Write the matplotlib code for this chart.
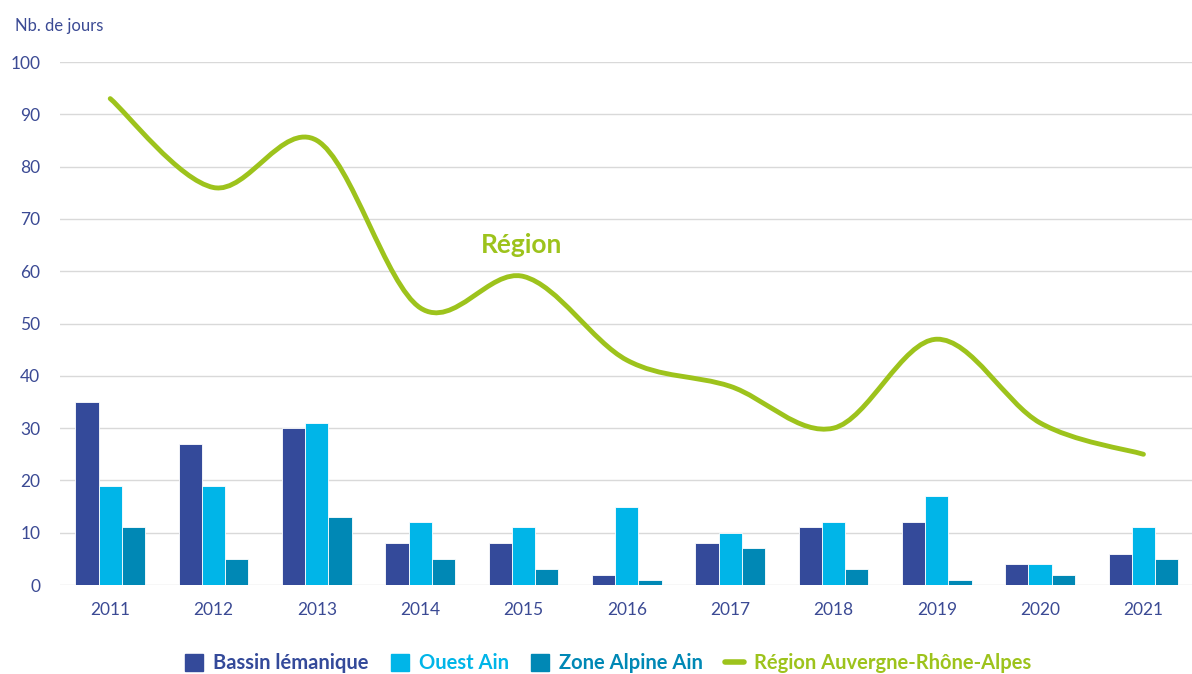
import matplotlib
matplotlib.use("Agg")
import matplotlib.pyplot as plt
import numpy as np
from matplotlib.path import Path
from matplotlib.patches import PathPatch, Patch
from matplotlib.lines import Line2D

plt.rcParams['font.family'] = ['Lato', 'DejaVu Sans']

annees = ['2011', '2012', '2013', '2014', '2015', '2016', '2017', '2018', '2019', '2020', '2021']
bassin_lemanique = [35, 27, 30, 8, 8, 2, 8, 11, 12, 4, 6]
ouest_ain = [19, 19, 31, 12, 11, 15, 10, 12, 17, 4, 11]
zone_alpine_ain = [11, 5, 13, 5, 3, 1, 7, 3, 1, 2, 5]
region_ara = [93, 76, 85, 53, 59, 43, 38, 30, 47, 31, 25]

c_bassin = '#344a9a'
c_ouest = '#00b5e8'
c_alpine = '#0088b5'
c_region = '#9dc31c'
c_texte = '#3b4a94'

fig = plt.figure(figsize=(11.92, 6.74), dpi=100)
ax = fig.add_axes([0.05, 0.132, 0.95, 0.776])

x = np.arange(len(annees))
w = 0.225
ax.bar(x - w, bassin_lemanique, w, color=c_bassin, edgecolor='white', linewidth=0.6, zorder=2)
ax.bar(x, ouest_ain, w, color=c_ouest, edgecolor='white', linewidth=0.6, zorder=2)
ax.bar(x + w, zone_alpine_ain, w, color=c_alpine, edgecolor='white', linewidth=0.6, zorder=2)

# courbe lissée (Catmull-Rom -> Bézier)
pts = np.column_stack([x, region_ara]).astype(float)
verts = [pts[0]]
codes = [Path.MOVETO]
for i in range(len(pts) - 1):
    p0 = pts[max(i - 1, 0)]
    p1 = pts[i]
    p2 = pts[i + 1]
    p3 = pts[min(i + 2, len(pts) - 1)]
    verts += [p1 + (p2 - p0) / 6, p2 - (p3 - p1) / 6, p2]
    codes += [Path.CURVE4] * 3
ax.add_patch(PathPatch(Path(verts, codes), facecolor='none', edgecolor=c_region,
                       linewidth=3.5, capstyle='round', zorder=3))

ax.text(3.98, 65, 'Région', color=c_region, fontsize=19, fontweight='bold',
        ha='center', va='center')

ax.set_xlim(-0.49, 10.47)
ax.set_ylim(0, 100)
ax.set_yticks(range(0, 101, 10))
ax.set_xticks(x)
ax.set_xticklabels(annees)
ax.grid(axis='y', color='#d9d9d9', linewidth=1, zorder=0)
ax.set_axisbelow(True)
for s in ax.spines.values():
    s.set_visible(False)
ax.tick_params(length=0, colors=c_texte, labelsize=12.5)
ax.tick_params(axis='x', pad=12)
ax.tick_params(axis='y', pad=14)

fig.text(0.013, 0.962, 'Nb. de jours', color=c_texte, fontsize=12, ha='left', va='center')

handles = [
    Patch(color=c_bassin),
    Patch(color=c_ouest),
    Patch(color=c_alpine),
    Line2D([0], [0], color=c_region, linewidth=4, solid_capstyle='round'),
]
labels = ['Bassin lémanique', 'Ouest Ain', 'Zone Alpine Ain', 'Région Auvergne-Rhône-Alpes']
fig.legend(handles, labels, loc='center', bbox_to_anchor=(0.51, 0.016), ncol=4,
           frameon=False, handlelength=0.9, handleheight=0.9, handletextpad=0.5,
           columnspacing=1.1, prop={'size': 14.5, 'weight': 'bold'},
           labelcolor=[c_bassin, c_ouest, c_alpine, c_region])

fig.savefig('out.png', dpi=100)
